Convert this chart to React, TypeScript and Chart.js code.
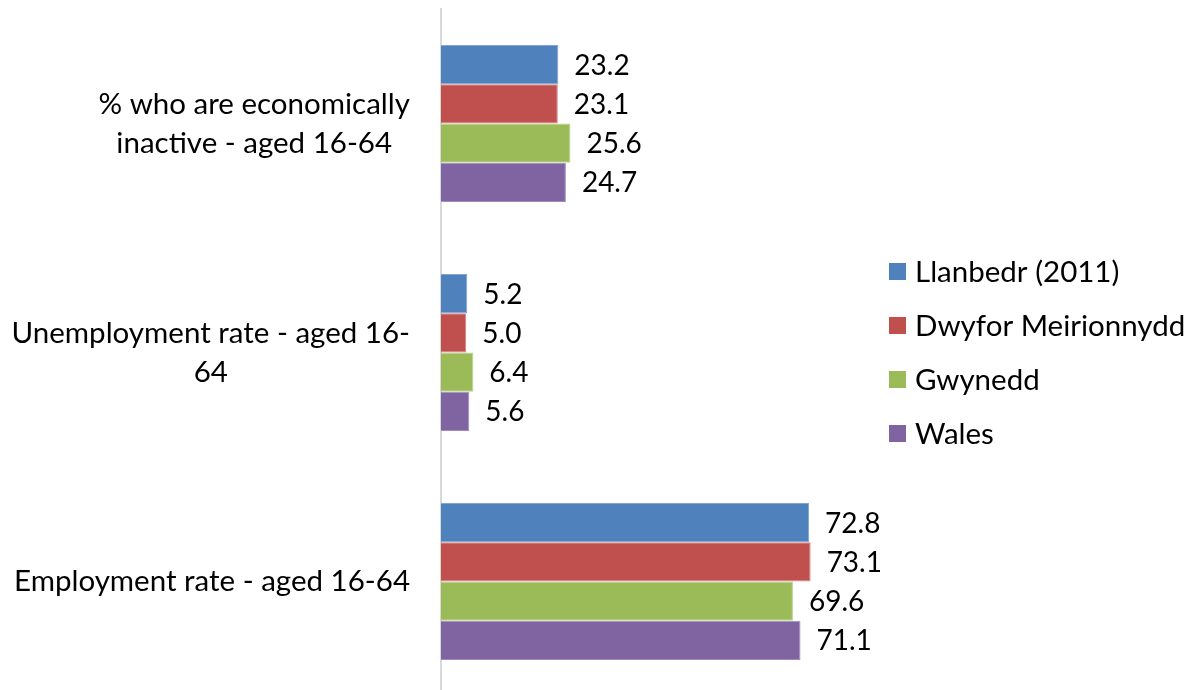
import React, { useEffect, useRef } from "react";
import { Chart, registerables } from "chart.js";

Chart.register(...registerables);

const categories: string[][] = [
  ["% who are economically", "inactive - aged 16-64"],
  ["Unemployment rate - aged 16-", "64"],
  ["Employment rate - aged 16-64"],
];

const seriesNames = ["Llanbedr (2011)", "Dwyfor Meirionnydd", "Gwynedd", "Wales"];
const llanbedr = [23.2, 5.2, 72.8];
const dwyfor = [23.1, 5.0, 73.1];
const gwynedd = [25.6, 6.4, 69.6];
const wales = [24.7, 5.6, 71.1];

const fills = ["#4F81BD", "#C0504D", "#9BBB59", "#8064A2"];
const edges = ["#7FA6D6", "#D98583", "#B9D48A", "#A08BC0"];

const FONT = "Lato, 'Open Sans', sans-serif";
const LABEL_SIZE = 29.5;
const VALUE_SIZE = 28;

const annotate = {
  id: "annotate",
  afterDatasetsDraw(chart: any) {
    const { ctx, chartArea, scales } = chart;
    const y = scales.y;
    ctx.save();
    ctx.fillStyle = "#000";
    ctx.font = `${LABEL_SIZE}px ${FONT}`;
    ctx.textBaseline = "middle";

    // category labels: each block right-aligned, lines centred inside the block
    const lineH = 39;
    categories.forEach((lines, i) => {
      const cy = y.getPixelForValue(i);
      const widths = lines.map((l) => ctx.measureText(l).width);
      const blockW = Math.max(...widths);
      const right = chartArea.left - 31;
      const centerX = right - blockW / 2;
      ctx.textAlign = "center";
      lines.forEach((l, k) => {
        const ly = cy + (k - (lines.length - 1) / 2) * lineH;
        ctx.fillText(l, centerX, ly);
      });
    });

    // value labels beside each bar
    ctx.font = `${VALUE_SIZE}px ${FONT}`;
    ctx.textAlign = "left";
    chart.data.datasets.forEach((ds: any, di: number) => {
      const meta = chart.getDatasetMeta(di);
      meta.data.forEach((bar: any, j: number) => {
        ctx.fillText(Number(ds.data[j]).toFixed(1), bar.x + 16, bar.y + 1);
      });
    });

    // legend on the right
    ctx.font = `${LABEL_SIZE}px ${FONT}`;
    const rowGap = 54;
    const midY = (chartArea.top + chartArea.bottom) / 2;
    const n = seriesNames.length;
    seriesNames.forEach((name, k) => {
      const ry = midY + (k - (n - 1) / 2) * rowGap;
      ctx.fillStyle = fills[k];
      ctx.fillRect(889, ry - 8.5, 17, 17);
      ctx.fillStyle = "#000";
      ctx.fillText(name, 915, ry + 1);
    });
    ctx.restore();
  },
};

export default function App() {
  const ref = useRef<HTMLCanvasElement>(null);

  useEffect(() => {
    if (!ref.current) return;
    const seriesData = [llanbedr, dwyfor, gwynedd, wales];
    const chart = new Chart(ref.current, {
      type: "bar",
      data: {
        labels: categories.map((c) => c.join(" ")),
        datasets: seriesNames.map((name, i) => ({
          label: name,
          data: seriesData[i],
          backgroundColor: fills[i],
          borderColor: edges[i],
          borderWidth: 1,
          categoryPercentage: 0.686,
          barPercentage: 1,
        })),
      },
      options: {
        indexAxis: "y",
        responsive: false,
        animation: false,
        devicePixelRatio: 1,
        layout: { padding: { left: 441, right: 348, top: 9, bottom: 1 } },
        plugins: { legend: { display: false }, tooltip: { enabled: false } },
        scales: {
          x: { display: false, min: 0, max: 79.7 },
          y: {
            ticks: { display: false },
            grid: { display: false, drawTicks: false },
            border: { display: true, color: "#D9D9D9", width: 2 },
            afterFit: (s: any) => {
              s.width = 0;
            },
          },
        },
      },
      plugins: [annotate],
    });
    return () => chart.destroy();
  }, []);

  return (
    <div style={{ position: "fixed", left: 0, top: 0, width: 1192, height: 697, background: "#fff" }}>
      <canvas ref={ref} width={1192} height={697} style={{ display: "block" }} />
    </div>
  );
}
